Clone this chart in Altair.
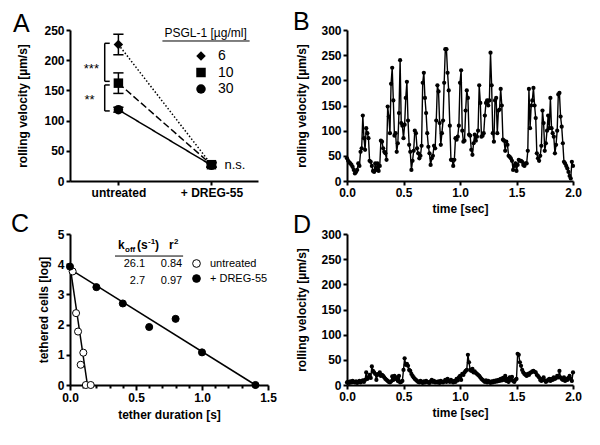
import altair as alt
import pandas as pd

FONT = "Liberation Sans"

# ---------------- Panel A ----------------
psgl_doses = ["6", "10", "30"]
psgl_dashes = [[1.5, 2], [7, 3], [1, 0]]
treatments = ["untreated", "+ DREG-55"]
vel_untreated = [226, 162, 118]
sem_untreated = [17, 17, 4]
vel_dreg = [27, 27, 26]
sem_dreg = [4, 4, 3]
sig_brackets = [(228, 165), (159, 116)]
sig_labels = ["***", "**"]

# ---------------- Panel B / D ----------------
sample_step = 0.01
b_velocity = [
    45, 40, 37, 35, 32, 28, 22, 15, 18, 22,
    35, 30, 58, 65, 130, 85, 62, 105, 95, 85,
    40, 38, 30, 20, 18, 35, 22, 35, 20, 30,
    80, 78, 65, 58, 55, 42, 148, 128, 95, 193,
    225, 160, 90, 95, 58, 75, 135, 240, 115, 110,
    85, 112, 165, 197, 120, 72, 58, 22, 40, 60,
    100, 95, 65, 55, 45, 50, 70, 195, 215, 165,
    135, 95, 68, 55, 32, 45, 50, 70, 65, 120,
    190, 178, 115, 72, 95, 120, 195, 262, 262, 215,
    180, 110, 42, 42, 30, 42, 85, 82, 88, 110,
    195, 220, 100, 78, 80, 140, 180, 165, 92, 90,
    62, 52, 75, 92, 80, 88, 100, 190, 155, 88,
    90, 95, 130, 155, 160, 150, 160, 255, 190, 95,
    78, 160, 165, 95, 140, 142, 183, 150, 82, 80,
    60, 78, 72, 50, 48, 45, 40, 22, 30, 35,
    20, 32, 42, 40, 40, 38, 32, 30, 35, 35,
    60, 183, 105, 150, 160, 185, 150, 125, 55, 45,
    40, 50, 70, 140, 115, 60, 75, 100, 130, 105,
    165, 105, 95, 88, 55, 72, 100, 172, 175, 128,
    108, 75, 38, 35, 30, 25, 18, 10, 5, 38,
    30,
]
d_velocity = [
    5, 6, 4, 7, 5, 8, 6, 5, 7, 4,
    6, 8, 5, 7, 9, 6, 10, 25, 12, 15,
    20, 14, 37, 28, 25, 22, 10, 20, 22, 25,
    18, 20, 18, 15, 12, 10, 8, 6, 5, 7,
    17, 10, 18, 12, 15, 8, 18, 5, 6, 8,
    30, 53, 40, 42, 38, 30, 28, 22, 18, 15,
    12, 10, 8, 6, 5, 8, 6, 4, 7, 5,
    8, 6, 5, 4, 7, 10, 6, 8, 5, 6,
    5, 7, 4, 8, 6, 5, 7, 10, 6, 12,
    8, 6, 10, 7, 5, 8, 6, 12, 9, 15,
    18, 10, 22, 20, 25, 28, 30, 60, 45, 30,
    28, 32, 25, 27, 24, 22, 20, 18, 15, 12,
    10, 8, 6, 9, 5, 8, 6, 4, 7, 5,
    8, 6, 9, 7, 10, 8, 12, 9, 14, 10,
    18, 8, 12, 6, 15, 10, 16, 8, 6, 10,
    12, 62, 60, 45, 38, 30, 25, 22, 20, 18,
    22, 20, 24, 25, 27, 28, 26, 25, 20, 18,
    15, 10, 8, 12, 15, 9, 6, 8, 10, 12,
    8, 12, 10, 15, 12, 14, 18, 15, 28, 15,
    12, 10, 15, 8, 12, 10, 14, 18, 12, 8,
    25,
]

# ---------------- Panel C ----------------
c_groups = ["untreated", "+ DREG-55"]
c_untreated_time = [0.02, 0.046, 0.061, 0.081, 0.101, 0.12, 0.157]
c_untreated_log = [3.76, 2.38, 1.77, 0.67, 1.07, 0.0, 0.0]
c_dreg_time = [0.0, 0.2, 0.4, 0.6, 0.8, 1.0, 1.405]
c_dreg_log = [3.92, 3.24, 2.70, 1.92, 2.19, 1.08, 0.0]
fit_untreated_time = [0.0, 0.132]
fit_untreated_log = [3.95, 0.0]
fit_dreg_time = [0.0, 1.405]
fit_dreg_log = [3.84, 0.0]
koff_values = ["26.1", "2.7"]
r2_values = ["0.84", "0.97"]

ONE = pd.DataFrame({"a": [0]})


def letter(text, dx, dy):
    return alt.Chart(ONE).mark_text(
        text=text, font=FONT, fontSize=25, fontWeight="normal", align="left",
        baseline="alphabetic", color="black"
    ).encode(x=alt.value(dx), y=alt.value(dy))


def make_label(xs, xa, ys, ya):
    def label(text, x, y, size=12, weight="normal", align="left", baseline="middle", dx=0, dy=0):
        return alt.Chart(ONE).mark_text(
            text=text, font=FONT, fontSize=size, fontWeight=weight, align=align,
            baseline=baseline, color="black", dx=dx, dy=dy
        ).encode(x=alt.XDatum(x, type="quantitative", scale=xs, axis=xa),
                 y=alt.YDatum(y, type="quantitative", scale=ys, axis=ya))
    return label


# ---------- build A ----------
rows = []
for i, g in enumerate(psgl_doses):
    rows.append(dict(dose=g, pos=0, v=vel_untreated[i],
                     lo=vel_untreated[i] - sem_untreated[i], hi=vel_untreated[i] + sem_untreated[i]))
    rows.append(dict(dose=g, pos=1, v=vel_dreg[i],
                     lo=vel_dreg[i] - sem_dreg[i], hi=vel_dreg[i] + sem_dreg[i]))
dfa = pd.DataFrame(rows)
caps = pd.DataFrame([
    {"x0": r.pos - 0.055, "x1": r.pos + 0.055, "v": val}
    for r in dfa.itertuples() for val in (r.lo, r.hi)
])
brk_x, brk_x2 = -0.147, -0.093
brackets = pd.DataFrame(
    [{"x0": brk_x, "x1": brk_x, "v": t, "v2": b} for t, b in sig_brackets]
    + [{"x0": brk_x, "x1": brk_x2, "v": y, "v2": y} for t, b in sig_brackets for y in (t, b)]
)

label_expr = f"datum.value == 0 ? '{treatments[0]}' : '{treatments[1]}'"
sc_ax = alt.Scale(domain=[-0.52, 1.5], nice=False)
sc_ay = alt.Scale(domain=[0, 250], nice=False)
ax_ax = alt.Axis(values=[0, 1], labelExpr=label_expr, title=None)
ax_ay = alt.Axis(values=[0, 50, 100, 150, 200, 250], title="rolling velocity [µm/s]", titlePadding=14)
xa = alt.X("pos:Q", scale=sc_ax, axis=ax_ax)
ya = alt.Y("v:Q", scale=sc_ay, axis=ax_ay)
label_a = make_label(sc_ax, ax_ax, sc_ay, ax_ay)

a_lines = [
    alt.Chart(dfa).transform_filter(alt.datum.dose == g).mark_line(
        color="black", strokeWidth=1.5, strokeDash=dash).encode(x=xa, y=ya)
    for g, dash in zip(psgl_doses, psgl_dashes)
]
a_err = alt.Chart(dfa).mark_rule(color="black", strokeWidth=1.5).encode(
    x=xa, y=alt.Y("lo:Q", scale=sc_ay, axis=ax_ay), y2="hi:Q")
a_caps = alt.Chart(caps).mark_rule(color="black", strokeWidth=1.5).encode(
    x=alt.X("x0:Q", scale=sc_ax, axis=ax_ax), x2="x1:Q", y=alt.Y("v:Q", scale=sc_ay, axis=ax_ay))
a_pts = alt.Chart(dfa).mark_point(filled=True, color="black", size=90, opacity=1).encode(
    x=xa, y=ya,
    shape=alt.Shape("dose:N", scale=alt.Scale(domain=psgl_doses, range=["diamond", "square", "circle"]),
                    legend=alt.Legend(orient="none", legendX=124, legendY=19, title=None,
                                      labelFontSize=14, labelFont=FONT, labelColor="black",
                                      symbolSize=90, rowPadding=2.5, labelOffset=10,
                                      symbolFillColor="black", symbolStrokeWidth=0, padding=0)),
)
a_brk = alt.Chart(brackets).mark_rule(color="black", strokeWidth=1.5).encode(
    x=alt.X("x0:Q", scale=sc_ax, axis=ax_ax), x2="x1:Q",
    y=alt.Y("v:Q", scale=sc_ay, axis=ax_ay), y2="v2:Q")
a_sig1 = label_a(sig_labels[0], -0.29, 178, size=13, align="center", baseline="alphabetic")
a_sig2 = label_a(sig_labels[1], -0.31, 128, size=13, align="center", baseline="alphabetic")
a_ns = label_a("n.s.", 1.14, 27, size=13, align="left")
a_legtitle = label_a("PSGL-1 [µg/ml]", 0.495, 238.5, size=12, baseline="alphabetic")
a_underline = alt.Chart(ONE).mark_rule(color="black", strokeWidth=1).encode(
    x=alt.XDatum(0.473, type="quantitative", scale=sc_ax, axis=ax_ax), x2=alt.datum(1.41),
    y=alt.YDatum(231.8, type="quantitative", scale=sc_ay, axis=ax_ay))

panel_a = alt.layer(
    *a_lines, a_err, a_caps, a_pts, a_brk, a_sig1, a_sig2, a_ns, a_legtitle, a_underline,
    letter("A", -57, 2),
).properties(width=188, height=151)


# ---------- build B / D ----------
def velocity_panel(values, letter_text, ldx, ldy):
    df = pd.DataFrame({"t": [round(i * sample_step, 2) for i in range(len(values))], "v": values})
    x = alt.X("t:Q", scale=alt.Scale(domain=[0, 2], nice=False),
              axis=alt.Axis(values=[0, 0.5, 1, 1.5, 2], format=".1f", title="time [sec]", titlePadding=5))
    y = alt.Y("v:Q", scale=alt.Scale(domain=[0, 300], nice=False),
              axis=alt.Axis(values=[0, 50, 100, 150, 200, 250, 300],
                            title="rolling velocity [µm/s]", titlePadding=12))
    line = alt.Chart(df).mark_line(color="black", strokeWidth=1.4).encode(x=x, y=y)
    pts = alt.Chart(df).mark_circle(color="black", size=18, opacity=1).encode(x=x, y=y)
    return alt.layer(line, pts, letter(letter_text, ldx, ldy)).properties(width=226, height=151)


panel_b = velocity_panel(b_velocity, "B", -54, 0)
panel_d = velocity_panel(d_velocity, "D", -54, -1)

# ---------- build C ----------
dfc = pd.DataFrame({
    "t": c_untreated_time + c_dreg_time,
    "y": c_untreated_log + c_dreg_log,
    "g": [c_groups[0]] * len(c_untreated_time) + [c_groups[1]] * len(c_dreg_time),
})
dff = pd.DataFrame({
    "t": fit_untreated_time + fit_dreg_time,
    "y": fit_untreated_log + fit_dreg_log,
    "g": [c_groups[0]] * 2 + [c_groups[1]] * 2,
})
c_ticks = [i / 10 for i in range(16)]
major_test = "abs(datum.value*2 - round(datum.value*2)) < 0.001"
sc_cx = alt.Scale(domain=[0, 1.5], nice=False)
sc_cy = alt.Scale(domain=[0, 5], nice=False)
ax_cx = alt.Axis(values=c_ticks, labelExpr=f"({major_test}) ? format(datum.value, '.1f') : ''",
                 labelOverlap=False, title="tether duration [s]", titlePadding=6,
                 tickSize={"condition": {"test": major_test, "value": 5}, "value": 3})
ax_cy = alt.Axis(values=[0, 1, 2, 3, 4, 5], title="tethered cells [log]", titlePadding=7)
xc = alt.X("t:Q", scale=sc_cx, axis=ax_cx)
yc = alt.Y("y:Q", scale=sc_cy, axis=ax_cy)
label_c = make_label(sc_cx, ax_cx, sc_cy, ax_cy)

c_fit = alt.Chart(dff).mark_line(color="black", strokeWidth=1.5).encode(x=xc, y=yc, detail="g:N")
c_pts = alt.Chart(dfc).mark_point(filled=True, stroke="black", strokeWidth=1, size=50, opacity=1).encode(
    x=xc, y=yc,
    fill=alt.Fill("g:N", scale=alt.Scale(domain=c_groups, range=["white", "black"]),
                  legend=alt.Legend(orient="none", legendX=121, legendY=24, title=None,
                                    labelFontSize=11, labelFont=FONT, labelColor="black",
                                    labelFontWeight="normal", symbolSize=60, rowPadding=2,
                                    labelOffset=8, symbolStrokeColor="black", symbolStrokeWidth=1,
                                    padding=0)),
)
hx, hy = 0.364, 4.49
c_head = [
    label_c("k", hx, hy, size=12, weight="bold", baseline="alphabetic"),
    label_c("off", hx, hy, size=8, weight="bold", baseline="alphabetic", dx=7, dy=3),
    label_c("(s", hx, hy, size=12, weight="bold", baseline="alphabetic", dx=19),
    label_c("-1", hx, hy, size=8, weight="bold", baseline="alphabetic", dx=30, dy=-5),
    label_c(")", hx, hy, size=12, weight="bold", baseline="alphabetic", dx=37),
    label_c("r", hx, hy, size=12, weight="bold", baseline="alphabetic", dx=51),
    label_c("2", hx, hy, size=8, weight="bold", baseline="alphabetic", dx=56, dy=-5),
]
c_underline = alt.Chart(ONE).mark_rule(color="black", strokeWidth=1).encode(
    x=alt.XDatum(0.341, type="quantitative", scale=sc_cx, axis=ax_cx), x2=alt.datum(0.857),
    y=alt.YDatum(4.27, type="quantitative", scale=sc_cy, axis=ax_cy))
c_rows = []
for i, yy in enumerate([4.01, 3.44]):
    c_rows.append(label_c(koff_values[i], 0.569, yy, size=11, align="right"))
    c_rows.append(label_c(r2_values[i], 0.850, yy, size=11, align="right"))

panel_c = alt.layer(
    c_fit, c_pts, *c_head, c_underline, *c_rows, letter("C", -59, -2)
).properties(width=198, height=151)

chart = alt.concat(
    panel_a, panel_b, panel_c, panel_d, columns=2,
    spacing={"row": 53, "column": 79}, bounds="flush", align="each",
).resolve_scale(
    shape="independent", fill="independent"
).resolve_legend(
    shape="independent", fill="independent"
).properties(
    padding={"left": 3, "top": 2, "right": 5, "bottom": 5}
).configure_view(stroke=None).configure_axis(
    domainColor="black", domainWidth=2, tickColor="black", tickWidth=2, tickSize=4,
    labelFont=FONT, labelFontSize=12, labelFontWeight="bold", labelColor="black", labelPadding=2,
    titleFont=FONT, titleFontSize=12, titleFontWeight="bold", titleColor="black",
    grid=False, labelFlush=False,
).configure_legend(labelFont=FONT, labelColor="black")

chart.save("out.html", embed_options={"renderer": "svg", "actions": False})
